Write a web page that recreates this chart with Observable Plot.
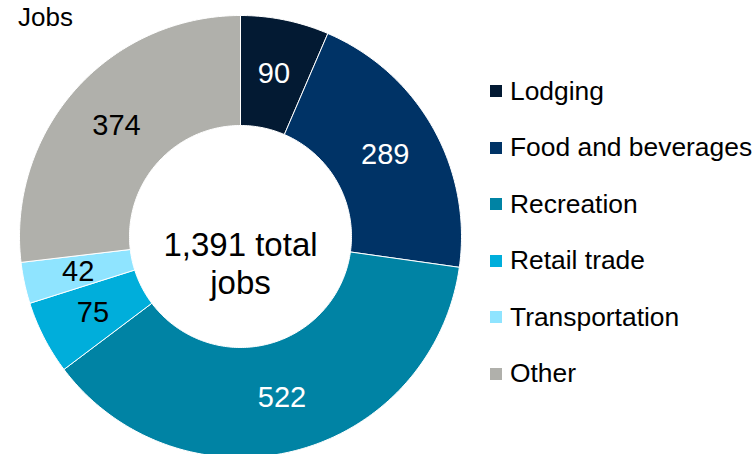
<!DOCTYPE html>
<html>
<head>
<meta charset="utf-8">
<script src="https://cdn.jsdelivr.net/npm/d3@7"></script>
<script src="https://cdn.jsdelivr.net/npm/@observablehq/plot@0.6"></script>
<style>
  html, body { margin: 0; padding: 0; background: #fff; }
  #wrap { position: relative; width: 755px; height: 454px; overflow: hidden; font-family: "Liberation Sans", Arial, sans-serif; }
  #title { position: absolute; left: 18px; top: 4px; font-size: 26px; line-height: 26px; color: #000; }
  #legend { position: absolute; left: 490px; top: 63px; }
  .row { display: flex; align-items: center; height: 56.5px; font-size: 26.4px; color: #000; white-space: nowrap; }
  .sw { width: 12px; height: 12px; margin-right: 8px; flex: none; }
  #chart { position: absolute; left: 0; top: 0; }
</style>
</head>
<body>
<div id="wrap">
  <div id="chart"></div>
  <div id="title">Jobs</div>
  <div id="legend"></div>
</div>
<script>
const categories = ["Lodging", "Food and beverages", "Recreation", "Retail trade", "Transportation", "Other"];
const values = [90, 289, 522, 75, 42, 374];
const colors = ["#031a33", "#003366", "#0083a4", "#00aedb", "#8fe4ff", "#b0b0ab"];
const labelColors = ["#ffffff", "#ffffff", "#ffffff", "#000000", "#000000", "#000000"];
const titleText = "Jobs";
const totalJobs = 1391; // as printed in the chart (components are rounded)

const data = categories.map((c, i) => ({category: c, value: values[i], labelColor: labelColors[i]}));

const innerR = 111 / 221;
const outerR = 1;
const arcs = d3.pie().sort(null).value(d => d.value)(data);

// polygon outline for each slice (in unit data space)
const poly = [];
arcs.forEach(a => {
  const n = Math.max(8, Math.ceil((a.endAngle - a.startAngle) * 60));
  for (let k = 0; k <= n; k++) {
    const t = a.startAngle + (a.endAngle - a.startAngle) * k / n;
    poly.push({category: a.data.category, x: outerR * Math.sin(t), y: outerR * Math.cos(t)});
  }
  for (let k = n; k >= 0; k--) {
    const t = a.startAngle + (a.endAngle - a.startAngle) * k / n;
    poly.push({category: a.data.category, x: innerR * Math.sin(t), y: innerR * Math.cos(t)});
  }
  const t0 = a.startAngle;
  poly.push({category: a.data.category, x: outerR * Math.sin(t0), y: outerR * Math.cos(t0)});
});

const midR = (innerR + outerR) / 2;
const labels = arcs.map(a => {
  const m = (a.startAngle + a.endAngle) / 2;
  return {x: midR * Math.sin(m), y: midR * Math.cos(m), text: String(a.data.value), color: a.data.labelColor};
});

const chart = Plot.plot({
  width: 755,
  height: 454,
  margin: 0,
  x: {domain: [-1, 1], range: [19, 461], axis: null},
  y: {domain: [-1, 1], range: [457, 15], axis: null},
  color: {domain: categories, range: colors},
  style: {fontFamily: '"Liberation Sans", Arial, sans-serif', background: "transparent"},
  marks: [
    Plot.line(poly, {x: "x", y: "y", z: "category", fill: "category", stroke: "#ffffff", strokeWidth: 1, strokeLinejoin: "round"}),
    Plot.text(labels, {x: "x", y: "y", text: "text", fill: d => d.color, fontSize: 29}),
    Plot.text([{x: 0, y: 0}], {x: "x", y: "y", text: () => d3.format(",")(totalJobs) + " total\njobs", fontSize: 33, lineHeight: 1.15, dy: 26, fill: "#000"})
  ]
});
document.getElementById("chart").appendChild(chart);

const legend = document.getElementById("legend");
categories.forEach((c, i) => {
  const row = document.createElement("div");
  row.className = "row";
  const sw = document.createElement("span");
  sw.className = "sw";
  sw.style.background = colors[i];
  const tx = document.createElement("span");
  tx.textContent = c;
  row.appendChild(sw);
  row.appendChild(tx);
  legend.appendChild(row);
});
document.getElementById("title").textContent = titleText;
</script>
</body>
</html>
